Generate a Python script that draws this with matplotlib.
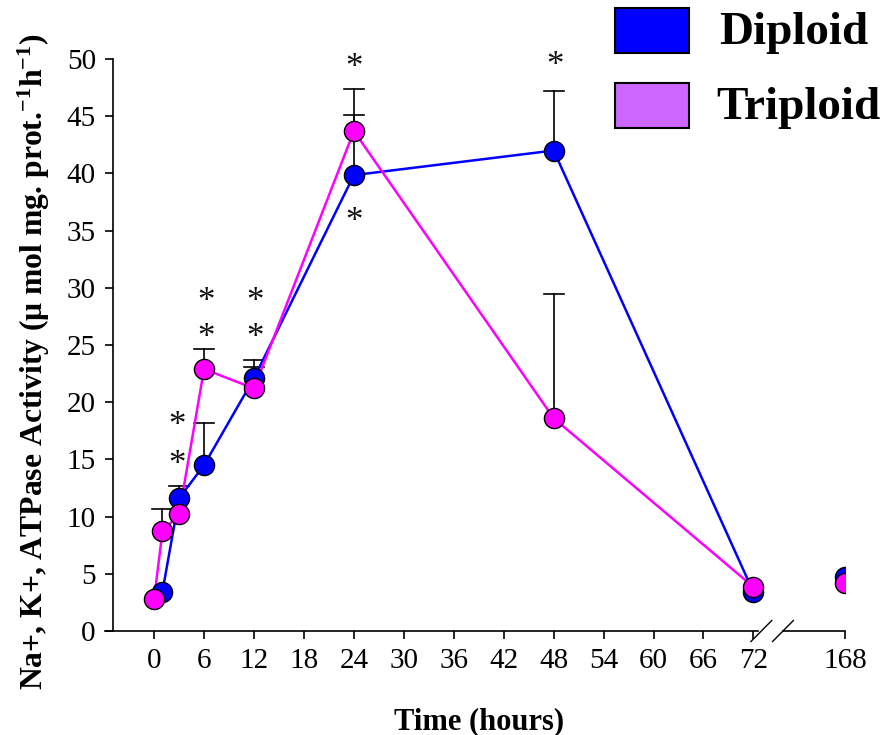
import matplotlib
matplotlib.use("Agg")
import matplotlib.pyplot as plt
from matplotlib.patches import Rectangle
import numpy as np

plt.rcParams['font.family'] = ['Liberation Serif', 'DejaVu Serif']
plt.rcParams['mathtext.fontset'] = 'custom'
plt.rcParams['mathtext.rm'] = 'Liberation Serif'
plt.rcParams['mathtext.bf'] = 'Liberation Serif:bold'
plt.rcParams['mathtext.it'] = 'Liberation Serif:italic'

# ---- data ----
diploid_times = [1, 3, 6, 12, 24, 48, 72, 168]
diploid = [3.45, 11.6, 14.5, 22.1, 39.85, 42.0, 3.4, 4.7]
diploid_err = [0, 1.1, 3.65, 1.6, 7.55, 5.2, 0, 0]
triploid_times = [0, 1, 3, 6, 12, 24, 48, 72, 168]
triploid = [2.8, 8.7, 10.2, 22.9, 21.2, 43.7, 18.6, 3.85, 4.2]
triploid_err = [0, 1.95, 0, 1.75, 1.9, 1.4, 10.9, 0, 0]

star_times = [2.8, 2.8, 6.2, 6.2, 12.1, 12.1, 24, 24, 48.1]
star_values = [18.2, 14.8, 29.1, 25.9, 29.1, 25.9, 49.5, 36.1, 49.7]

x_ticks = [0, 6, 12, 18, 24, 30, 36, 42, 48, 54, 60, 66, 72, 168]
y_ticks = [0, 5, 10, 15, 20, 25, 30, 35, 40, 45, 50]

BREAK_POS = 83  # displayed position of 168 h after axis break


def pos(t):
    return np.array([tt if tt <= 72 else BREAK_POS for tt in t], dtype=float)


fig = plt.figure(figsize=(8.85, 7.35), dpi=100)
ax = fig.add_axes([112.5 / 885, (735 - 631) / 735, (845 - 112.5) / 885, (631 - 59) / 735])

blue = '#0000FF'
pink = '#FF00FF'

dx = pos(diploid_times)
tx = pos(triploid_times)
dy = np.array(diploid)
ty = np.array(triploid)

# error bars (upper only)
cap_half = 1.2
for x, y, e in list(zip(dx, dy, diploid_err)) + list(zip(tx, ty, triploid_err)):
    if e > 0:
        ax.plot([x, x], [y, y + e], color='black', lw=1.2, zorder=2)
        ax.plot([x - cap_half, x + cap_half], [y + e, y + e], color='black', lw=1.2, zorder=2)

# lines (not connected across the break)
md = np.array(diploid_times) <= 72
mt = np.array(triploid_times) <= 72
ax.plot(dx[md], dy[md], color=blue, lw=1.8, zorder=3)
ax.plot(tx[mt], ty[mt], color=pink, lw=1.8, zorder=4)

ax.plot(dx, dy, 'o', ms=14.5, mfc=blue, mec='black', mew=1.0, zorder=5)
ax.plot(tx, ty, 'o', ms=14.5, mfc=pink, mec='black', mew=1.0, zorder=6)

for x, y in zip(star_times, star_values):
    ax.text(x, y, '*', fontsize=25, ha='center', va='center_baseline', color='#111111')

ax.set_xlim(-5, 83)
ax.set_ylim(0, 50)
ax.set_yticks(y_ticks)
ax.set_yticklabels([str(v) for v in y_ticks], fontsize=21)
ax.set_xticks(pos(x_ticks))
ax.set_xticklabels([str(v) for v in x_ticks], fontsize=21)
ax.tick_params(axis='both', direction='out', length=6, width=1.2, pad=6)

for s in ['top', 'right', 'bottom']:
    ax.spines[s].set_visible(False)
ax.spines['left'].set_linewidth(1.2)

# bottom axis with break
trans = ax.get_xaxis_transform()
ax.plot([-5.9, 72.6], [0, 0], color='black', lw=1.2, transform=trans, clip_on=False)
ax.plot([75.6, 83], [0, 0], color='black', lw=1.2, transform=trans, clip_on=False)
h = 10.5 / 572
ax.plot([71.7, 74.2], [-h, h], color='black', lw=1.0, transform=trans, clip_on=False)
ax.plot([74.3, 76.8], [-h, h], color='black', lw=1.0, transform=trans, clip_on=False)

ax.set_xlabel('Time (hours)', fontsize=22, fontweight='bold', labelpad=24)
ax.set_ylabel(r'Na+, K+, ATPase Activity ($\mathbf{\mu}$ mol mg. prot.$^{\mathbf{-1}}$h$^{\mathbf{-1}}$)',
              fontsize=22.8, fontweight='bold')
ax.yaxis.set_label_coords(-60 / 732.5, 0.47)

# legend
W, H = 885, 735
fig.patches.append(Rectangle((615 / W, (H - 53) / H), 74 / W, 45 / H, transform=fig.transFigure,
                             facecolor=blue, edgecolor='black', lw=1.5))
fig.patches.append(Rectangle((615 / W, (H - 128) / H), 74 / W, 45 / H, transform=fig.transFigure,
                             facecolor='#CC66FF', edgecolor='black', lw=1.5))
fig.text(719 / W, (H - 33) / H, 'Diploid', fontsize=34, fontweight='bold', va='center', ha='left')
fig.text(716 / W, (H - 108) / H, 'Triploid', fontsize=34, fontweight='bold', va='center', ha='left')

fig.savefig('out.png', dpi=100)
